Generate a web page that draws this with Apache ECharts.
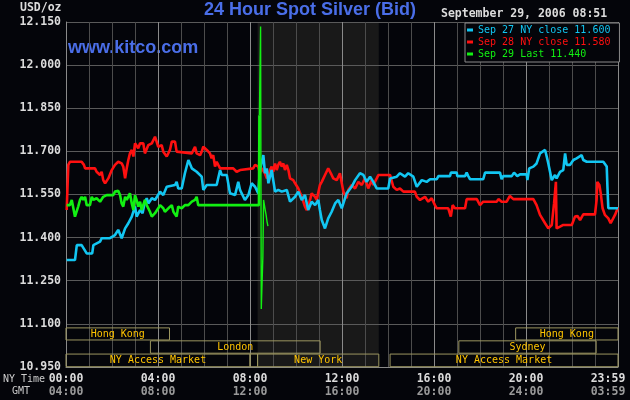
<!DOCTYPE html>
<html>
<head>
<meta charset="utf-8">
<script src="https://cdn.jsdelivr.net/npm/echarts@6/dist/echarts.min.js"></script>
<style>
  html, body { margin: 0; padding: 0; background: #04050a; }
  #chart { width: 630px; height: 400px; }
</style>
</head>
<body>
<div id="chart"></div>
<script>
// hours since 00:00 NY time, price in USD/oz
var sep27 = [
  [0.03, 11.322], [0.39, 11.322], [0.47, 11.374], [0.68, 11.374], [0.90, 11.345], [1.14, 11.345],
  [1.19, 11.374], [1.48, 11.386], [1.55, 11.398], [1.91, 11.398], [2.13, 11.409], [2.27, 11.427],
  [2.42, 11.398], [2.57, 11.432], [2.71, 11.450], [2.86, 11.473], [3.00, 11.508], [3.07, 11.473],
  [3.22, 11.496], [3.33, 11.485], [3.43, 11.525], [3.51, 11.537], [3.58, 11.519], [3.73, 11.537],
  [3.87, 11.531], [4.09, 11.560], [4.23, 11.548], [4.38, 11.577], [4.74, 11.583], [4.81, 11.594],
  [4.88, 11.571], [5.03, 11.571], [5.17, 11.624], [5.32, 11.670], [5.47, 11.641], [5.68, 11.629],
  [5.90, 11.612], [5.97, 11.566], [6.12, 11.583], [6.55, 11.583], [6.70, 11.635], [6.77, 11.618],
  [6.99, 11.618], [7.13, 11.554], [7.35, 11.548], [7.49, 11.594], [7.57, 11.565], [7.78, 11.531],
  [7.93, 11.548], [8.07, 11.589], [8.22, 11.577], [8.36, 11.554], [8.43, 11.635], [8.58, 11.687],
  [8.65, 11.624], [8.73, 11.641], [8.80, 11.589], [8.94, 11.635], [9.09, 11.560], [9.23, 11.566],
  [9.38, 11.560], [9.60, 11.566], [9.74, 11.525], [9.96, 11.542], [10.10, 11.560], [10.25, 11.531],
  [10.39, 11.548], [10.53, 11.496], [10.68, 11.525], [10.83, 11.513], [10.97, 11.531], [11.04, 11.496],
  [11.12, 11.461], [11.26, 11.432], [11.40, 11.467], [11.55, 11.490], [11.70, 11.519], [11.84, 11.531],
  [11.99, 11.502], [12.20, 11.554], [12.42, 11.577], [12.57, 11.600], [12.78, 11.624], [12.93, 11.618],
  [13.07, 11.594], [13.22, 11.612], [13.36, 11.594], [13.51, 11.571], [14.01, 11.571], [14.09, 11.606],
  [14.38, 11.612], [14.52, 11.624], [14.74, 11.612], [14.88, 11.624], [15.10, 11.612], [15.25, 11.577],
  [15.47, 11.600], [15.68, 11.594], [15.83, 11.603], [16.12, 11.603], [16.19, 11.614], [16.70, 11.614],
  [16.73, 11.626], [16.99, 11.626], [17.01, 11.614], [17.35, 11.614], [17.42, 11.626], [17.49, 11.614],
  [17.57, 11.603], [18.14, 11.603], [18.22, 11.626], [18.87, 11.626], [18.94, 11.603], [19.01, 11.614],
  [19.38, 11.614], [19.48, 11.626], [19.62, 11.614], [19.74, 11.620], [20.03, 11.620], [20.06, 11.600],
  [20.14, 11.641], [20.32, 11.647], [20.46, 11.658], [20.61, 11.693], [20.83, 11.705], [20.90, 11.682],
  [20.97, 11.658], [21.12, 11.600], [21.26, 11.618], [21.33, 11.606], [21.48, 11.629], [21.62, 11.635],
  [21.70, 11.693], [21.77, 11.653], [21.91, 11.653], [22.06, 11.670], [22.20, 11.676], [22.42, 11.687],
  [22.49, 11.670], [22.64, 11.664], [23.36, 11.664], [23.51, 11.647], [23.54, 11.577], [23.58, 11.502],
  [24.00, 11.502]
];

var sep28 = [
  [0.03, 11.496], [0.10, 11.653], [0.17, 11.664], [0.53, 11.664], [0.61, 11.658], [0.68, 11.664],
  [0.78, 11.653], [0.83, 11.641], [1.26, 11.641], [1.33, 11.629], [1.48, 11.618], [1.55, 11.629],
  [1.62, 11.600], [1.70, 11.589], [1.84, 11.606], [1.99, 11.635], [2.13, 11.653], [2.27, 11.664],
  [2.42, 11.658], [2.49, 11.647], [2.57, 11.606], [2.64, 11.641], [2.71, 11.670], [2.78, 11.693],
  [2.86, 11.705], [2.93, 11.682], [3.00, 11.728], [3.14, 11.711], [3.22, 11.728], [3.29, 11.722],
  [3.36, 11.728], [3.43, 11.693], [3.51, 11.699], [3.58, 11.722], [3.73, 11.728], [3.87, 11.751],
  [3.94, 11.734], [4.01, 11.716], [4.16, 11.722], [4.23, 11.699], [4.38, 11.682], [4.52, 11.705],
  [4.60, 11.734], [4.74, 11.734], [4.81, 11.699], [4.88, 11.693], [5.47, 11.693], [5.54, 11.699],
  [5.61, 11.716], [5.68, 11.693], [5.83, 11.687], [5.90, 11.699], [5.97, 11.716], [6.12, 11.705],
  [6.26, 11.693], [6.33, 11.676], [6.40, 11.687], [6.48, 11.647], [6.55, 11.664], [6.62, 11.653],
  [6.70, 11.641], [7.06, 11.641], [7.13, 11.647], [7.27, 11.641], [7.42, 11.629], [7.49, 11.624],
  [7.57, 11.635], [7.64, 11.641], [8.14, 11.641], [8.22, 11.653], [8.36, 11.647], [8.43, 11.624],
  [8.51, 11.641], [8.58, 11.647], [8.65, 11.624], [8.73, 11.606], [8.80, 11.618], [8.87, 11.635],
  [8.94, 11.647], [9.01, 11.629], [9.09, 11.658], [9.16, 11.635], [9.23, 11.653], [9.30, 11.664],
  [9.38, 11.647], [9.45, 11.658], [9.52, 11.635], [9.60, 11.653], [9.67, 11.635], [9.74, 11.606],
  [9.88, 11.600], [9.96, 11.589], [10.10, 11.571], [10.25, 11.542], [10.39, 11.508], [10.47, 11.496],
  [10.54, 11.513], [10.61, 11.531], [10.68, 11.554], [10.83, 11.542], [10.90, 11.531], [10.97, 11.537],
  [11.04, 11.583], [11.12, 11.594], [11.26, 11.618], [11.40, 11.641], [11.55, 11.618], [11.62, 11.606],
  [11.77, 11.600], [11.91, 11.624], [11.99, 11.589], [12.06, 11.560], [12.20, 11.537], [12.27, 11.566],
  [12.42, 11.583], [12.57, 11.571], [12.71, 11.594], [12.86, 11.583], [13.00, 11.606], [13.14, 11.571],
  [13.29, 11.600], [13.36, 11.583], [13.51, 11.606], [13.58, 11.618], [14.09, 11.618], [14.23, 11.577],
  [14.38, 11.566], [14.52, 11.571], [14.67, 11.560], [15.17, 11.560], [15.25, 11.542], [15.39, 11.531],
  [15.61, 11.542], [15.75, 11.525], [15.90, 11.537], [15.97, 11.537], [16.04, 11.513], [16.12, 11.502],
  [16.62, 11.502], [16.73, 11.473], [16.81, 11.513], [16.91, 11.502], [17.35, 11.502], [17.42, 11.534],
  [17.86, 11.534], [18.00, 11.513], [18.14, 11.525], [18.73, 11.525], [18.80, 11.534], [18.94, 11.525],
  [19.16, 11.525], [19.30, 11.545], [19.45, 11.534], [20.32, 11.534], [20.46, 11.513], [20.61, 11.479],
  [20.83, 11.450], [20.97, 11.432], [21.12, 11.444], [21.22, 11.519], [21.30, 11.594], [21.33, 11.432],
  [21.48, 11.438], [21.55, 11.432], [21.62, 11.444], [21.99, 11.444], [22.13, 11.473], [22.24, 11.475],
  [22.35, 11.461], [22.49, 11.481], [23.00, 11.481], [23.07, 11.531], [23.10, 11.594], [23.19, 11.583],
  [23.25, 11.554], [23.33, 11.502], [23.43, 11.479], [23.58, 11.467], [23.68, 11.450], [23.87, 11.479],
  [24.00, 11.505]
];

var sep29 = [
  [0.03, 11.513], [0.17, 11.513], [0.25, 11.531], [0.32, 11.502], [0.39, 11.473], [0.47, 11.479],
  [0.53, 11.508], [0.61, 11.531], [0.68, 11.542], [0.75, 11.531], [0.83, 11.542], [0.90, 11.513],
  [1.04, 11.513], [1.12, 11.542], [1.19, 11.531], [1.33, 11.537], [1.48, 11.525], [1.62, 11.542],
  [1.77, 11.548], [2.06, 11.548], [2.13, 11.560], [2.27, 11.563], [2.35, 11.548], [2.42, 11.519],
  [2.49, 11.508], [2.57, 11.542], [2.64, 11.531], [2.78, 11.554], [2.86, 11.519], [2.93, 11.496],
  [3.00, 11.548], [3.07, 11.531], [3.14, 11.508], [3.22, 11.525], [3.29, 11.496], [3.43, 11.531],
  [3.51, 11.513], [3.65, 11.490], [3.73, 11.473], [3.87, 11.485], [4.01, 11.502], [4.09, 11.513],
  [4.23, 11.502], [4.30, 11.490], [4.45, 11.502], [4.60, 11.513], [4.67, 11.490], [4.81, 11.473],
  [4.88, 11.508], [5.03, 11.502], [5.17, 11.513], [5.32, 11.513], [5.47, 11.525], [5.61, 11.531],
  [5.68, 11.542], [5.75, 11.513], [8.39, 11.513], [8.41, 11.826], [8.46, 12.134], [8.49, 11.152],
  [8.54, 11.152], [8.56, 11.335], [8.59, 11.531], [8.63, 11.525], [8.65, 11.502], [8.70, 11.479],
  [8.74, 11.456], [8.78, 11.440]
];

var yTicks = [10.950, 11.100, 11.250, 11.400, 11.550, 11.700, 11.850, 12.000, 12.150];
var nyTicks = ['00:00', '04:00', '08:00', '12:00', '16:00', '20:00', '23:59'];
var gmtTicks = ['04:00', '08:00', '12:00', '16:00', '20:00', '24:00', '03:59'];

var legendNames = ['Sep 27 NY close 11.600', 'Sep 28 NY close 11.580', 'Sep 29 Last 11.440'];

// trading sessions drawn in the bottom band (row 0 = top)
var sessions = [
  { name: 'Hong Kong', from: 0, to: 4.5, row: 0 },
  { name: 'Hong Kong', from: 19.55, to: 24, row: 0 },
  { name: 'London', from: 3.67, to: 11.05, row: 1 },
  { name: 'Sydney', from: 17.08, to: 23.05, row: 1 },
  { name: 'NY Access Market', from: 0, to: 8, row: 2 },
  { name: '', from: 8, to: 8.33, row: 2 },
  { name: 'New York', from: 8.33, to: 13.6, row: 2 },
  { name: 'NY Access Market', from: 14.09, to: 24, row: 2 }
];
var nySession = [8.33, 13.6];

var MONO = 'DejaVu Sans Mono';
var cyan = '#12c6f2', red = '#ff1010', green = '#12f012';

var rowBands = [[11.086, 11.044], [11.041, 10.998], [10.995, 10.951]];
var sessionAreas = sessions.map(function (s) {
  var b = rowBands[s.row];
  return [
    { xAxis: s.from, yAxis: b[0], name: s.name },
    { xAxis: s.to, yAxis: b[1] }
  ];
});

var greenThick = sep29.filter(function (p) { return p[0] <= 8.41; });
var greenThin = sep29.filter(function (p) { return p[0] >= 8.41; });

var myChart = echarts.init(document.getElementById('chart'));
var option;

option = {
  backgroundColor: '#04050a',
  animation: false,
  title: {
    text: '24 Hour Spot Silver (Bid)',
    left: 204,
    top: 1,
    padding: 0,
    textStyle: { color: '#4a6ee8', fontSize: 18, fontWeight: 'bold', fontFamily: 'Liberation Sans' }
  },
  graphic: [
    { type: 'text', left: 68, top: 39, style: { text: 'www.kitco.com', fill: '#4a6ee8', font: 'bold 18px "Liberation Sans"' } },
    { type: 'text', left: 441, top: 8, style: { text: 'September 29, 2006 08:51', fill: '#dcdcdc', font: 'bold 11.5px "DejaVu Sans Mono"' } },
    { type: 'text', left: 20, top: 2, style: { text: 'USD/oz', fill: '#dcdcdc', font: 'bold 11.5px "DejaVu Sans Mono"' } },
    { type: 'text', left: 3, top: 374, style: { text: 'NY Time', fill: '#cccccc', font: '10px "DejaVu Sans Mono"' } },
    { type: 'text', left: 12, top: 386, style: { text: 'GMT', fill: '#cccccc', font: '10px "DejaVu Sans Mono"' } }
  ],
  legend: {
    orient: 'vertical',
    left: 465,
    top: 23,
    padding: [1, 9, 2, 2],
    itemGap: 0,
    itemWidth: 6,
    itemHeight: 3,
    icon: 'rect',
    borderColor: '#8a8a8a',
    borderWidth: 1,
    backgroundColor: '#04050a',
    selectedMode: false,
    textStyle: { fontFamily: MONO, fontSize: 10, lineHeight: 12 },
    data: [
      { name: legendNames[0], textStyle: { color: cyan } },
      { name: legendNames[1], textStyle: { color: red } },
      { name: legendNames[2], textStyle: { color: green } }
    ]
  },
  grid: { left: 66, right: 12, top: 22, bottom: 33 },
  xAxis: [
    {
      type: 'value',
      min: 0,
      max: 24,
      interval: 1,
      axisLine: { show: true, lineStyle: { color: '#8a8a8a' } },
      axisTick: { show: false },
      splitLine: { show: true, lineStyle: { color: ['#8a8a8a', '#4c4c4c', '#4c4c4c', '#4c4c4c'], width: 1 } },
      axisLabel: {
        margin: 6,
        color: '#dcdcdc',
        fontFamily: MONO,
        fontSize: 11.5,
        fontWeight: 'bold',
        formatter: function (v) {
          if (v % 4 !== 0) return '';
          return v === 24 ? '{e|' + nyTicks[6] + '}' : nyTicks[v / 4];
        },
        rich: { e: { color: '#dcdcdc', fontFamily: MONO, fontSize: 11.5, fontWeight: 'bold', padding: [0, 20, 0, 0] } }
      }
    },
    {
      type: 'value',
      min: 0,
      max: 24,
      interval: 1,
      position: 'bottom',
      offset: 13,
      axisLine: { show: false },
      axisTick: { show: false },
      splitLine: { show: false },
      axisLabel: {
        margin: 6,
        color: '#9a9a9a',
        fontFamily: MONO,
        fontSize: 11.5,
        fontWeight: 'bold',
        formatter: function (v) {
          if (v % 4 !== 0) return '';
          return v === 24 ? '{e|' + gmtTicks[6] + '}' : gmtTicks[v / 4];
        },
        rich: { e: { color: '#9a9a9a', fontFamily: MONO, fontSize: 11.5, fontWeight: 'bold', padding: [0, 20, 0, 0] } }
      }
    }
  ],
  yAxis: {
    type: 'value',
    min: yTicks[0],
    max: yTicks[yTicks.length - 1],
    interval: 0.15,
    axisLine: { show: true, lineStyle: { color: '#8a8a8a' } },
    axisTick: { show: false },
    splitLine: { lineStyle: { color: '#5a5a5a' } },
    axisLabel: {
      margin: 5,
      color: '#dcdcdc',
      fontFamily: MONO,
      fontSize: 11.5,
      fontWeight: 'bold',
      formatter: function (v) { return v.toFixed(3); }
    }
  },
  series: [
    {
      // NY session shading, kept under the grid lines
      name: 'nySession',
      type: 'line',
      data: [],
      silent: true,
      z: -1,
      markArea: {
        silent: true,
        z: -5,
        data: [[{ xAxis: nySession[0], yAxis: yTicks[yTicks.length - 1] }, { xAxis: nySession[1], yAxis: yTicks[0] }]],
        itemStyle: {
          color: '#191919',
          decal: { symbol: 'circle', symbolSize: 0.25, color: '#1f2c66', dashArrayX: [[1, 9]], dashArrayY: [1, 7], rotation: 0.6 }
        }
      }
    },
    {
      name: legendNames[1],
      type: 'line',
      data: sep28,
      showSymbol: false,
      color: red,
      lineStyle: { width: 2.6, color: red },
      z: 2
    },
    {
      name: legendNames[0],
      type: 'line',
      data: sep27,
      showSymbol: false,
      color: cyan,
      lineStyle: { width: 2.6, color: cyan },
      markArea: {
        silent: true,
        data: sessionAreas,
        itemStyle: { color: 'rgba(0,0,0,0)', borderColor: '#9c9660', borderWidth: 1 },
        label: { show: true, position: 'inside', color: '#ffc400', fontFamily: MONO, fontSize: 10 }
      },
      z: 3
    },
    {
      name: legendNames[2],
      type: 'line',
      data: greenThick,
      showSymbol: false,
      color: green,
      lineStyle: { width: 2.6, color: green },
      z: 4
    },
    {
      name: legendNames[2],
      type: 'line',
      data: greenThin,
      showSymbol: false,
      color: green,
      lineStyle: { width: 1.4, color: green },
      z: 4
    }
  ]
};

option && myChart.setOption(option);
</script>
</body>
</html>
